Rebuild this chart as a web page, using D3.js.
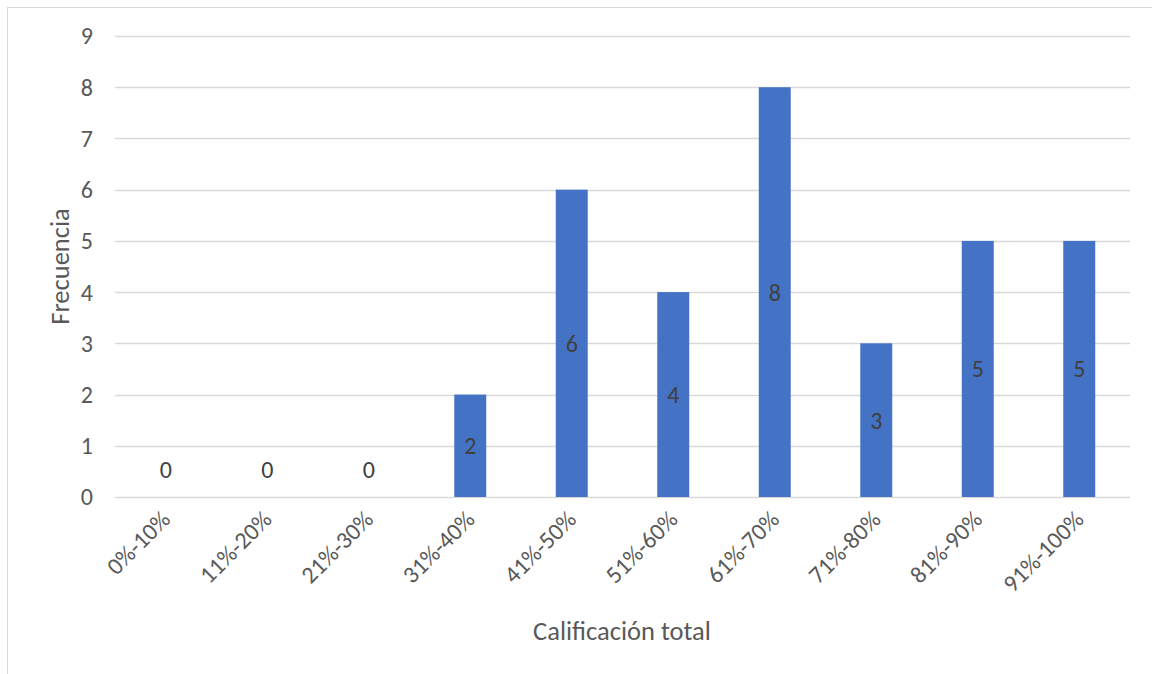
<!DOCTYPE html>
<html><head><meta charset="utf-8">
<script src="https://cdn.jsdelivr.net/npm/d3@7"></script>
<style>body{margin:0;background:#fff}svg{display:block}text{font-family:Calibri,Carlito,"Open Sans",sans-serif}</style>
</head><body>
<svg id="c" width="1152" height="674"></svg>
<script>
const categories = ["0%-10%","11%-20%","21%-30%","31%-40%","41%-50%","51%-60%","61%-70%","71%-80%","81%-90%","91%-100%"];
const values = [0,0,0,2,6,4,8,3,5,5];
const yTicks = [0,1,2,3,4,5,6,7,8,9];

(function(){
const svg = d3.select("#c");
svg.append("rect").attr("x",7.5).attr("y",7.5).attr("width",1160).attr("height",680)
  .attr("fill","#fff").attr("stroke","#d9d9d9").attr("stroke-width",1);

const pL=115, pR=1130, pT=36, pB=497;
const x = d3.scaleBand().domain(categories).range([pL,pR]).padding(0);
const y = d3.scaleLinear().domain([0,9]).range([pB,pT]);

const g = svg.append("g");
g.selectAll("line.grid").data(yTicks).join("line")
  .attr("x1",pL).attr("x2",pR)
  .attr("y1",d=>Math.round(y(d))+0.5).attr("y2",d=>Math.round(y(d))+0.5)
  .attr("stroke","#d9d9d9").attr("stroke-width",1.5);

g.selectAll("text.yt").data(yTicks).join("text")
  .attr("x",93).attr("y",d=>y(d)).attr("dy","0.35em")
  .attr("text-anchor","end").attr("fill","#595959").attr("font-size",24).text(d=>d);

const bw = x.bandwidth()*0.315;
g.selectAll("rect.bar").data(values).join("rect")
  .attr("x",(d,i)=>x(categories[i])+x.bandwidth()/2-bw/2)
  .attr("width",bw)
  .attr("y",d=>y(d)).attr("height",d=>y(0)-y(d))
  .attr("fill","#4472c4");

g.selectAll("text.lbl").data(values).join("text")
  .attr("x",(d,i)=>x(categories[i])+x.bandwidth()/2)
  .attr("y",d=> d===0 ? y(0)-27 : (y(d)+y(0))/2)
  .attr("dy","0.35em").attr("text-anchor","middle")
  .attr("fill","#404040").attr("font-size",24).text(d=>d);

g.selectAll("text.xt").data(categories).join("text")
  .attr("transform",d=>`translate(${x(d)+x.bandwidth()/2},${pB+18}) rotate(-45)`)
  .attr("text-anchor","end").attr("dy","0.35em")
  .attr("fill","#595959").attr("font-size",24).text(d=>d);

svg.append("text").attr("transform",`translate(69,${(pT+pB)/2}) rotate(-90)`)
  .attr("text-anchor","middle").attr("fill","#595959").attr("font-size",26.5).text("Frecuencia");
svg.append("text").attr("x",622).attr("y",640)
  .attr("text-anchor","middle").attr("fill","#595959").attr("font-size",26.5).text("Calificación total");
})();
</script>
</body></html>
